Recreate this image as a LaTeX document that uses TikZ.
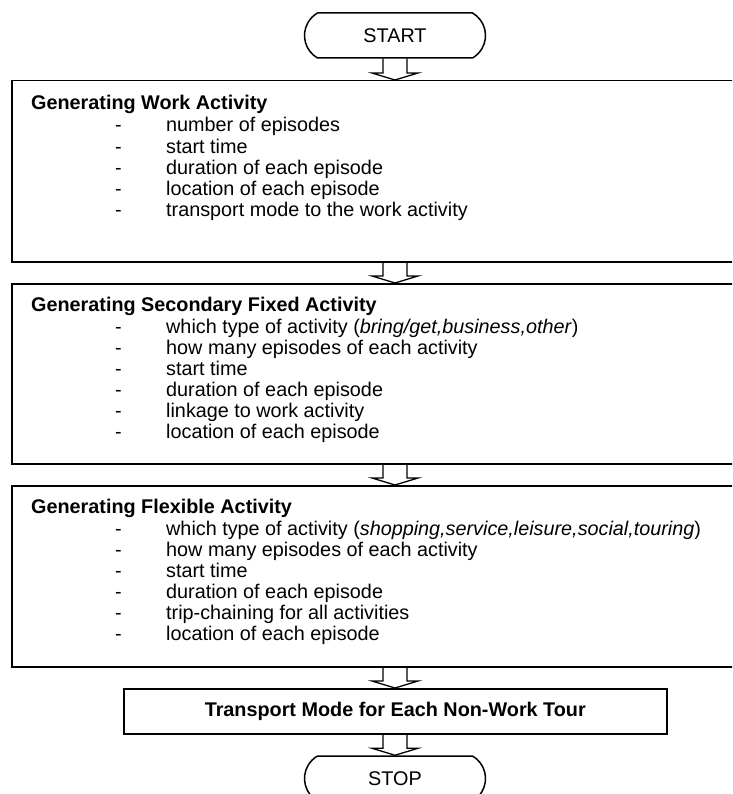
\documentclass[tikz,border=0pt]{standalone}
\usepackage{fontspec}
\setmainfont{Liberation Sans}
\usetikzlibrary{shapes.misc,calc}
\newcommand\blockarr[2]{%
  \draw[arr] let \p1=(#1.south), \p2=(#2.north) in
    (383pt,\y1) -- (383pt,\y2+7pt) -- (372pt,\y2+7pt) -- (395pt,\y2)
    -- (418pt,\y2+7pt) -- (407pt,\y2+7pt) -- (407pt,\y1);}
\newcommand\itemlist[3]{%
  \foreach \t [count=\i] in {#3} {%
    \node[itm] (#1d\i) at (115,{#2+21.1*(\i-1)}) {-};
    \node[itm] (#1t\i) at (166,{#2+21.1*(\i-1)}) {\t};
  }}
\begin{document}
\begin{tikzpicture}[x=1pt,y=-1pt,
  every node/.style={font=\fontsize{19.8}{21}\selectfont},
  term/.style={draw, line width=1.5pt, rounded rectangle, rounded rectangle arc length=120,
    minimum width=181pt, minimum height=45pt, inner sep=0pt},
  box/.style={draw, line width=1.5pt, rectangle, inner sep=0pt, anchor=north west},
  ttl/.style={anchor=base west, inner sep=0pt, font=\fontsize{19.8}{21}\selectfont\bfseries},
  itm/.style={anchor=base west, inner sep=0pt},
  arr/.style={line width=1.3pt, line join=miter}]
\useasboundingbox (0,0) rectangle (732,794);
\clip (0,0) rectangle (732,794);

\node[term] (start) at (395,35.5) {START};

\node[box, minimum width=729pt, minimum height=181pt] (b1) at (11,80) {};
\node[ttl] (b1h) at (31,109.5) {Generating Work Activity};
\itemlist{a}{132}{number of episodes, start time, duration of each episode,
  location of each episode, transport mode to the work activity}

\node[box, minimum width=729pt, minimum height=180pt] (b2) at (11,283) {};
\node[ttl] (b2h) at (31,311) {Generating Secondary Fixed Activity};
\itemlist{b}{333}{{which type of activity (\textit{bring/get,business,other})},
  how many episodes of each activity, start time, duration of each episode,
  linkage to work activity, location of each episode}

\node[box, minimum width=729pt, minimum height=181pt] (b3) at (11,485) {};
\node[ttl] (b3h) at (31,513) {Generating Flexible Activity};
\itemlist{c}{535}{{which type of activity (\textit{shopping,service,leisure,social,touring})},
  how many episodes of each activity, start time, duration of each episode,
  trip-chaining for all activities, location of each episode}

\node[box, minimum width=543pt, minimum height=45pt] (tm) at (123,688) {};
\node[inner sep=0pt, font=\fontsize{19.8}{21}\selectfont\bfseries] (tmt) at (tm.center) {Transport Mode for Each Non-Work Tour};

\node[term] (stop) at (395,778.5) {STOP};

\blockarr{start}{b1}
\blockarr{b1}{b2}
\blockarr{b2}{b3}
\blockarr{b3}{tm}
\blockarr{tm}{stop}
\end{tikzpicture}
\end{document}
